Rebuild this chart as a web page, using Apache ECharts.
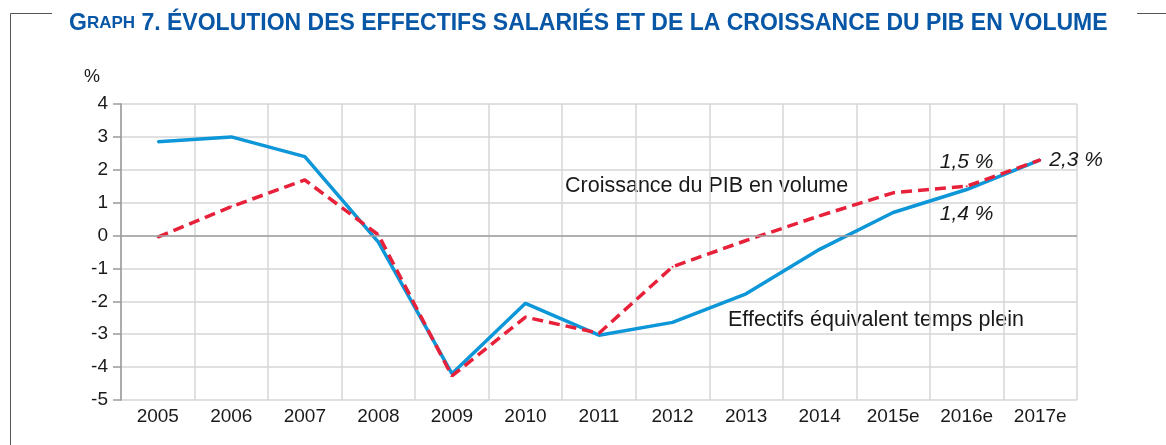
<!DOCTYPE html>
<html lang="fr">
<head>
    <meta charset="UTF-8">
    <title>Graph 7</title>
    <script type="text/javascript" src="https://cdn.jsdelivr.net/npm/echarts@6/dist/echarts.min.js"></script>
    <style>
        html, body { margin: 0; padding: 0; background: #fff; }
        #chart { width: 1166px; height: 445px; }
    </style>
</head>
<body>
<div id="chart"></div>
<script type="text/javascript">
    var years = ['2005', '2006', '2007', '2008', '2009', '2010', '2011', '2012', '2013', '2014', '2015e', '2016e', '2017e'];
    // effectifs equivalent temps plein (%)
    var effectifs = [2.85, 3.0, 2.4, -0.2, -4.2, -2.06, -3.03, -2.64, -1.77, -0.42, 0.7, 1.4, 2.3];
    // croissance du PIB en volume (%)
    var pib = [-0.05, 0.88, 1.69, 0.02, -4.27, -2.48, -2.97, -0.95, -0.15, 0.6, 1.3, 1.5, 2.3];
    var yTicks = [-5, -4, -3, -2, -1, 0, 1, 2, 3, 4];

    var font = 'Liberation Sans, Arial, Helvetica, sans-serif';
    var blue = '#0d96d8';
    var red = '#e8213a';

    function noteLabel(text, pos) {
        return {
            show: true, position: pos, distance: pos === 'right' ? 8 : 13,
            formatter: text, fontFamily: font, fontSize: 21, fontStyle: 'italic', color: '#1a1a1a'
        };
    }

    var pibData = pib.map(function (v, i) {
        if (i === 11) return {value: v, label: noteLabel('1,5 %', 'top')};
        if (i === 12) return {value: v, label: noteLabel('2,3 %', 'right')};
        return v;
    });
    var effData = effectifs.map(function (v, i) {
        if (i === 11) return {value: v, label: noteLabel('1,4 %', 'bottom')};
        return v;
    });

    var chart = echarts.init(document.getElementById('chart'));
    chart.setOption({
        animation: false,
        title: {
            left: 64, top: 7,
            text: '{big|G}{sm|RAPH} 7. ÉVOLUTION DES EFFECTIFS SALARIÉS ET DE LA CROISSANCE DU PIB EN VOLUME',
            textStyle: {
                fontFamily: font, fontSize: 23, fontWeight: 'bold', color: '#0757a6',
                rich: {
                    big: {fontFamily: font, fontSize: 23, fontWeight: 'bold', color: '#0757a6'},
                    sm: {fontFamily: font, fontSize: 17, fontWeight: 'bold', color: '#0757a6'}
                }
            }
        },
        grid: {left: 121, right: 89, top: 104, bottom: 45},
        xAxis: {
            type: 'category',
            data: years,
            boundaryGap: true,
            axisLine: {show: false},
            axisTick: {show: false},
            axisLabel: {fontFamily: font, fontSize: 19, color: '#1a1a1a', margin: 7, interval: 0},
            splitLine: {show: true, lineStyle: {color: '#d6d6d6', width: 1.5}}
        },
        yAxis: {
            type: 'value',
            min: -5, max: 4, interval: 1,
            axisLine: {show: true, lineStyle: {color: '#9a9a9a', width: 1.5}},
            axisTick: {show: true, length: 8, lineStyle: {color: '#9a9a9a', width: 1.5}},
            axisLabel: {
                fontFamily: font, fontSize: 19, color: '#1a1a1a', margin: 13,
                formatter: function (v) { return yTicks.indexOf(v) >= 0 ? String(v) : ''; }
            },
            splitLine: {lineStyle: {color: '#d6d6d6', width: 1.5}}
        },
        series: [
            {
                name: 'Effectifs équivalent temps plein',
                type: 'line',
                data: effData,
                symbol: 'circle',
                symbolSize: 2,
                itemStyle: {color: blue},
                lineStyle: {color: blue, width: 3.5},
                z: 3,
                markLine: {
                    silent: true, symbol: 'none', label: {show: false},
                    lineStyle: {color: '#a0a0a0', width: 1.5, type: 'solid'},
                    data: [{yAxis: 0}]
                }
            },
            {
                name: 'Croissance du PIB en volume',
                type: 'line',
                data: pibData,
                symbol: 'circle',
                symbolSize: 2,
                itemStyle: {color: red},
                lineStyle: {color: red, width: 3.5, type: [11, 6]},
                z: 4
            }
        ],
        graphic: [
            {type: 'polyline', shape: {points: [[52, 13.5], [10.5, 13.5], [10.5, 445]]},
                style: {stroke: '#555', lineWidth: 1, fill: null}},
            {type: 'line', shape: {x1: 1137, y1: 13.5, x2: 1166, y2: 13.5},
                style: {stroke: '#555', lineWidth: 1}},
            {type: 'text', left: 84, top: 68,
                style: {text: '%', font: '18px ' + font, fill: '#1a1a1a'}},
            {type: 'text', left: 565, top: 175,
                style: {text: 'Croissance du PIB en volume', font: '21.5px ' + font, fill: '#1a1a1a'}},
            {type: 'text', left: 728, top: 309,
                style: {text: 'Effectifs équivalent temps plein', font: '21.5px ' + font, fill: '#1a1a1a'}}
        ]
    });
</script>
</body>
</html>
